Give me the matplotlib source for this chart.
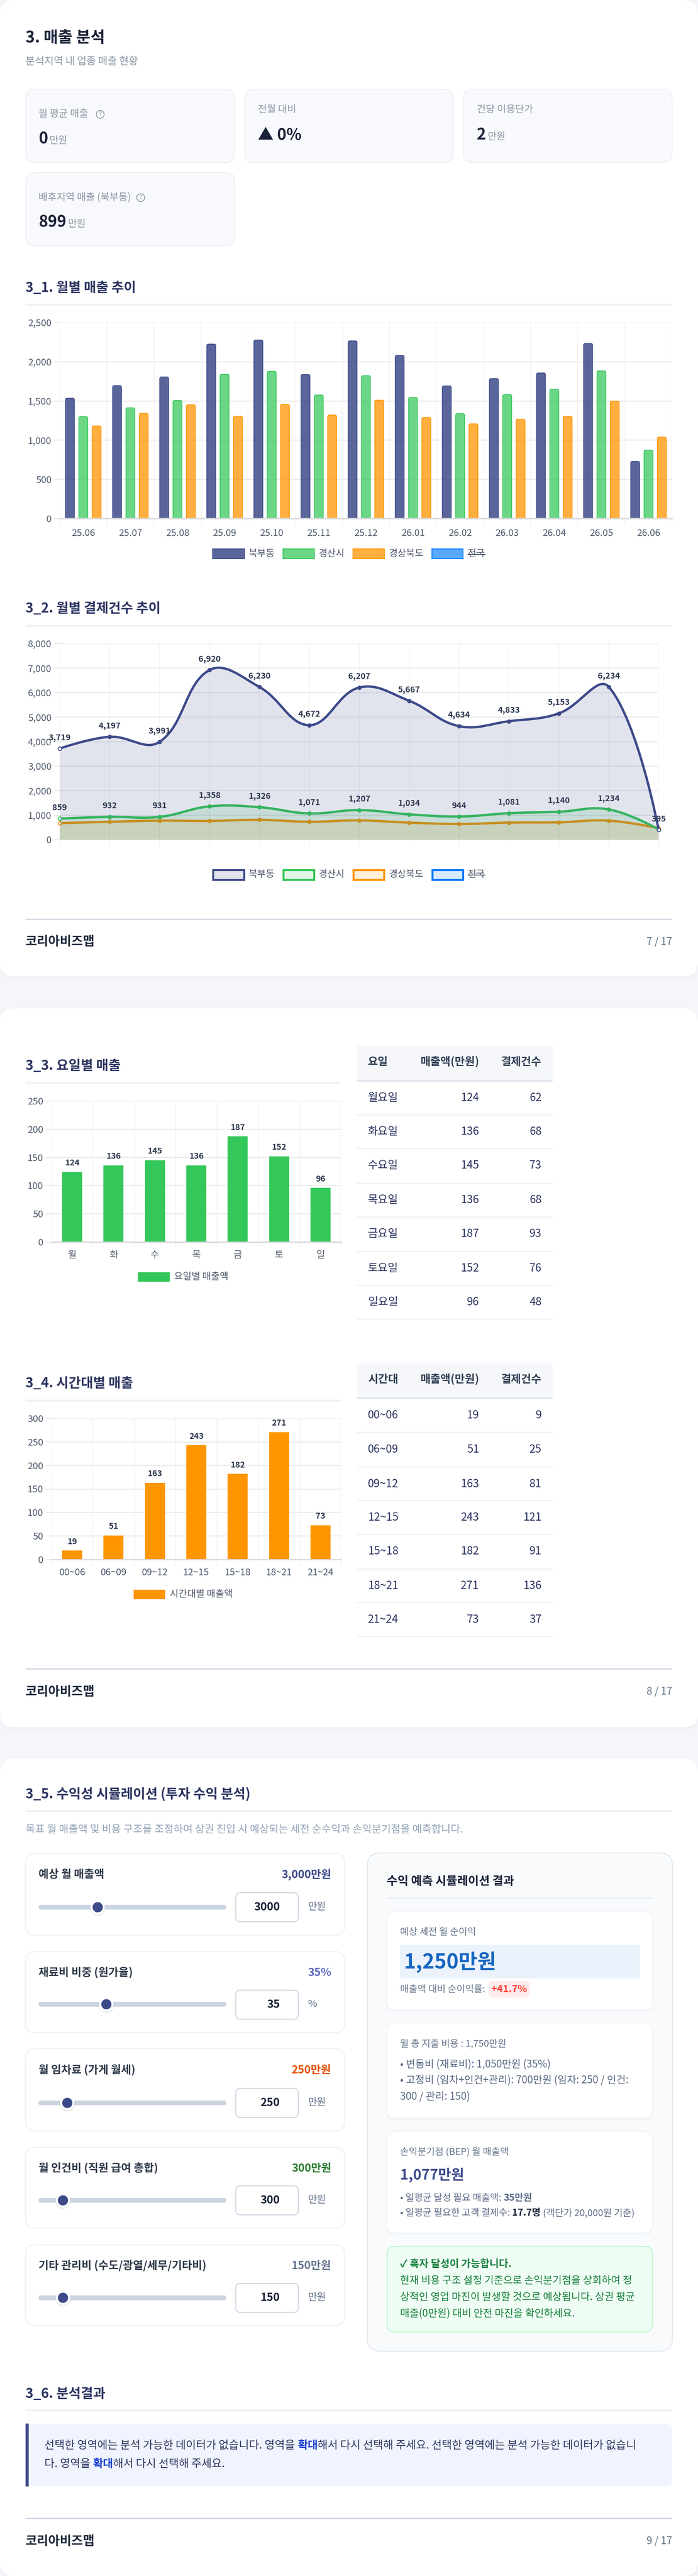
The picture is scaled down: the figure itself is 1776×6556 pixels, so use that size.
import matplotlib
matplotlib.use('Agg')
import matplotlib.pyplot as plt
import numpy as np
from matplotlib.patches import FancyBboxPatch, PathPatch, Rectangle, Circle
from matplotlib.path import Path

plt.rcParams['font.family'] = ['Noto Sans CJK KR', 'DejaVu Sans']

W, H = 1776, 6556

# ---- data ----
months = ['25.06', '25.07', '25.08', '25.09', '25.10', '25.11', '25.12',
          '26.01', '26.02', '26.03', '26.04', '26.05', '26.06']
region_names = ['북부동', '경산시', '경상북도', '전국']

sales_bukbu = [1536, 1697, 1807, 2226, 2277, 1838, 2267, 2081, 1692, 1787, 1858, 2234, 731]
sales_gyeongsan = [1301, 1413, 1508, 1840, 1879, 1577, 1823, 1546, 1339, 1582, 1651, 1884, 874]
sales_gyeongbuk = [1183, 1342, 1452, 1306, 1457, 1321, 1511, 1291, 1209, 1268, 1306, 1498, 1040]

count_bukbu = [3719, 4197, 3991, 6920, 6230, 4672, 6207, 5667, 4634, 4833, 5153, 6234, 395]
count_gyeongsan = [859, 932, 931, 1358, 1326, 1071, 1207, 1034, 944, 1081, 1140, 1234, 420]
count_gyeongbuk = [675, 731, 776, 765, 810, 731, 787, 697, 641, 697, 709, 776, 472]

day_short = ['월', '화', '수', '목', '금', '토', '일']
day_names = ['월요일', '화요일', '수요일', '목요일', '금요일', '토요일', '일요일']
day_sales = [124, 136, 145, 136, 187, 152, 96]
day_count = [62, 68, 73, 68, 93, 76, 48]

hour_names = ['00~06', '06~09', '09~12', '12~15', '15~18', '18~21', '21~24']
hour_sales = [19, 51, 163, 243, 182, 271, 73]
hour_count = [9, 25, 81, 121, 91, 136, 37]

slider_labels = ['예상 월 매출액', '재료비 비중 (원가율)', '월 임차료 (가게 월세)',
                 '월 인건비 (직원 급여 총합)', '기타 관리비 (수도/광열/세무/기타비)']
slider_texts = ['3,000만원', '35%', '250만원', '300만원', '150만원']
slider_values = [3000, 35, 250, 300, 150]
slider_max = [10000, 100, 2000, 3000, 1500]
slider_units = ['만원', '%', '만원', '만원', '만원']

NAVY = '#3d4a8a'
GREEN = '#34c759'
ORANGE = '#ff9500'
BLUE = '#007aff'
TITLE = '#1a2238'
HEAD = '#2d3561'
GRAY = '#8b95a5'
TICK = '#4f5b6e'
GRID = '#e9e9ec'
GRIDV = '#eeeef0'
LABEL = '#2f3a52'

fig = plt.figure(figsize=(W / 100, H / 100), dpi=100, facecolor='#f5f6fa')
bg = fig.add_axes([0, 0, 1, 1])
bg.set_xlim(0, W)
bg.set_ylim(H, 0)
bg.axis('off')
renderer = fig.canvas.get_renderer()


def pt(px):
    return px * 0.72


def txt(x, y, s, size, color=TITLE, weight='normal', ha='left', va='center', zorder=5):
    return bg.text(x, y, s, fontsize=pt(size), color=color, fontweight=weight,
                   ha=ha, va=va, zorder=zorder)


def width_of(s, size, weight):
    # the bar keeps trailing spaces in the measure
    a = txt(0, 0, s + '|', size, weight=weight)
    b = txt(0, 0, '|', size, weight=weight)
    w = a.get_window_extent(renderer).width - b.get_window_extent(renderer).width
    a.remove()
    b.remove()
    return w


def runs(x, y, parts):
    # parts on one baseline: (text, size, color, weight)
    for s, size, color, weight in parts:
        txt(x, y, s, size, color, weight, va='baseline')
        x += width_of(s, size, weight)


def box(x0, y0, x1, y1, r, fc, ec='none', lw=0, zorder=2, alpha=None):
    p = FancyBboxPatch((x0, y0), x1 - x0, y1 - y0, boxstyle=f'round,pad=0,rounding_size={r}',
                       fc=fc, ec=ec, lw=pt(lw), zorder=zorder, alpha=alpha)
    bg.add_patch(p)
    return p


def rule(x0, x1, y, color, h):
    bg.add_patch(Rectangle((x0, y - h / 2), x1 - x0, h, fc=color, ec='none', zorder=3))


def card(y0, y1):
    for g in (10, 6, 3):
        box(0, y0 - 1, W, y1 + g, 36, '#d8dce8', alpha=0.06, zorder=1)
    box(0, y0, W, y1, 36, 'white', zorder=2)


def shadow_box(x0, y0, x1, y1, r, fc='white', ec='none', lw=0):
    for g in (6, 4, 2):
        box(x0 - g * 0.5, y0 - g * 0.3, x1 + g * 0.5, y1 + g, r + 2, '#dfe3ec', alpha=0.12, zorder=3)
    box(x0, y0, x1, y1, r, fc, ec, lw, zorder=4)


def section(y, s, rule_y, x1=1710):
    txt(65, y, s, 34, HEAD, 'bold')
    rule(65, x1, rule_y, '#f0f1f5', 5)


def footer(rule_y, y, page):
    rule(65, 1710, rule_y, '#cbd5e1', 3)
    txt(65, y, '코리아비즈맵', 32, '#1e2a3c', 'bold')
    txt(1710, y, page, 26, '#64748b', ha='right')


def help_icon(x, y):
    bg.add_patch(Circle((x, y), 10, fc='none', ec='#8b95a5', lw=pt(2), zorder=5))
    txt(x, y, '?', 15, '#8b95a5', ha='center')


def make_axes(left, top, right, bottom):
    ax = fig.add_axes([left / W, 1 - bottom / H, (right - left) / W, (bottom - top) / H])
    ax.patch.set_alpha(0)
    for sp in ax.spines.values():
        sp.set_visible(False)
    return ax


def style_grid(ax, yticks, edges, centers, labels, hgrid=GRID):
    ax.set_yticks(yticks)
    ax.set_yticklabels([f'{v:,}' for v in yticks])
    ax.set_xticks(edges)
    ax.set_xticklabels([])
    ax.tick_params(axis='y', length=pt(15), width=pt(2.5), color=hgrid, labelsize=pt(24),
                   labelcolor=TICK, pad=pt(6))
    ax.tick_params(axis='x', length=pt(16), width=pt(1.5), color=GRIDV)
    ax.set_xticks(centers, minor=True)
    ax.set_xticklabels(labels, minor=True)
    ax.tick_params(axis='x', which='minor', length=0, labelsize=pt(24), labelcolor=TICK, pad=pt(26))
    ax.grid(True, axis='y', color=hgrid, lw=pt(2.5), zorder=0)
    ax.grid(True, axis='x', color=GRIDV, lw=pt(1.5), zorder=0)
    ax.set_axisbelow(True)


def top_round_bar(ax, x, w, v, color, fill_alpha, rx, ry):
    x0, x1 = x - w / 2, x + w / 2
    verts = [(x0, 0), (x0, v - ry), (x0, v), (x0 + rx, v), (x1 - rx, v), (x1, v), (x1, v - ry), (x1, 0), (x0, 0)]
    codes = [Path.MOVETO, Path.LINETO, Path.CURVE3, Path.CURVE3, Path.LINETO, Path.CURVE3, Path.CURVE3,
             Path.LINETO, Path.CLOSEPOLY]
    ax.add_patch(PathPatch(Path(verts, codes), fc=matplotlib.colors.to_rgba(color, fill_alpha),
                           ec=color, lw=pt(1.8), zorder=3))


def curve_path(xs, ys, sx, sy, t=0.4):
    # chart.js style bezier between the points, worked out in pixels
    px = np.array(xs, float) * sx
    py = np.array(ys, float) * sy
    n = len(px)
    verts = [(px[0], py[0])]
    codes = [Path.MOVETO]
    cp_next = np.array([px[0], py[0]])
    for i in range(1, n):
        if i < n - 1:
            d01 = np.hypot(px[i] - px[i - 1], py[i] - py[i - 1])
            d12 = np.hypot(px[i + 1] - px[i], py[i + 1] - py[i])
            dx, dy = px[i + 1] - px[i - 1], py[i + 1] - py[i - 1]
            fa = t * d01 / (d01 + d12)
            fb = t * d12 / (d01 + d12)
            cp_prev = np.array([px[i] - fa * dx, py[i] - fa * dy])
            nxt = np.array([px[i] + fb * dx, py[i] + fb * dy])
        else:
            cp_prev = np.array([px[i], py[i]])
            nxt = cp_prev
        verts += [tuple(cp_next), tuple(cp_prev), (px[i], py[i])]
        codes += [Path.CURVE4] * 3
        cp_next = nxt
    verts = [(a / sx, b / sy) for a, b in verts]
    return verts, codes


def line_series(ax, ys, color, sx, sy):
    xs = list(range(len(ys)))
    verts, codes = curve_path(xs, ys, sx, sy)
    area = Path(verts + [(xs[-1], 0), (xs[0], 0), (xs[0], ys[0])],
                codes + [Path.LINETO, Path.LINETO, Path.CLOSEPOLY])
    ax.add_patch(PathPatch(area, fc=matplotlib.colors.to_rgba(color, 0.15), ec='none', zorder=3))
    ax.add_patch(PathPatch(Path(verts, codes), fc='none', ec=color, lw=pt(6), zorder=3,
                           capstyle='round', joinstyle='round', clip_on=False))
    ax.plot(xs[1:-1], ys[1:-1], 'o', color=color, ms=pt(11), mew=0, zorder=3, clip_on=False)
    ax.plot([xs[0], xs[-1]], [ys[0], ys[-1]], 'o', mfc='#f3f4f8', mec=color, ms=pt(9), mew=pt(2.2),
            zorder=3, clip_on=False)


def value_labels(ax, xs, ys, labels, px_up, size):
    for x, y, s in zip(xs, ys, labels):
        ax.annotate(s, (x, y), xytext=(0, pt(px_up)), textcoords='offset points', ha='center', va='center',
                    fontsize=pt(size), color=LABEL, fontweight='bold', annotation_clip=False, zorder=6)


def table(header, names, values, counts, head_top, head_bottom, seps, rows_y, head_y):
    bg.add_patch(Rectangle((908, head_top), 498, head_bottom - head_top, fc='#f5f7fb', ec='none', zorder=3))
    rule(908, 1406, head_bottom + 2, '#e2e8f0', 5)
    txt(936, head_y, header, 28, '#334155', 'bold')
    txt(1219, head_y, '매출액(만원)', 28, '#334155', 'bold', ha='right')
    txt(1378, head_y, '결제건수', 28, '#334155', 'bold', ha='right')
    for y in seps:
        rule(908, 1406, y, '#f0f1f5', 3)
    for y, n, v, c in zip(rows_y, names, values, counts):
        txt(936, y, n, 28, HEAD)
        txt(1219, y, f'{v}', 28, HEAD, ha='right')
        txt(1378, y, f'{c}', 28, HEAD, ha='right')


# ---- cards ----
card(0, 2485)
card(2566, 4396)
card(4476, H)

# ---- page 7 head ----
txt(65, 97, '3. 매출 분석', 40, TITLE, 'bold')
txt(65, 157, '분석지역 내 업종 매출 현황', 26, GRAY)

kpi_boxes = [(65, 227, 597, 414), (623, 227, 1153, 414), (1179, 227, 1710, 414), (65, 439, 597, 626)]
for b in kpi_boxes:
    box(b[0], b[1], b[2], b[3], 24, '#f8f9fc', '#eef0f4', 2.5, zorder=3)

txt(98, 290, '월 평균 매출', 25, GRAY)
help_icon(255, 291)
runs(98, 365, [('0', 40, TITLE, 'bold'), (' ', 18, GRAY, 'normal'), ('만원', 25, GRAY, 'normal')])
txt(656, 279, '전월 대비', 25, GRAY)
runs(656, 355, [('▲ 0%', 40, TITLE, 'bold')])
txt(1213, 279, '건당 이용단가', 25, GRAY)
runs(1213, 355, [('2', 40, TITLE, 'bold'), (' ', 18, GRAY, 'normal'), ('만원', 25, GRAY, 'normal')])
txt(98, 502, '배후지역 매출 (북부동)', 25, GRAY)
help_icon(358, 503)
runs(98, 577, [('899', 40, TITLE, 'bold'), (' ', 18, GRAY, 'normal'), ('만원', 25, GRAY, 'normal')])

# ---- 3_1 monthly sales bars ----
section(733, '3_1. 월별 매출 추이', 775)
ax1 = make_axes(152, 821, 1710, 1320)
ax1.set_xlim(-0.5, 12.5)
ax1.set_ylim(0, 2500)
style_grid(ax1, [0, 500, 1000, 1500, 2000, 2500], np.arange(-0.5, 13), range(13), months)
ax1.axhline(0, color='#d9d9dd', lw=pt(3.5), zorder=4, clip_on=False)
x_pos = np.arange(len(months))
rx = 4 / (1558 / 13)
ry = 5 / (499 / 2500)
for off, vals, col, a in [(-0.283, sales_bukbu, NAVY, 0.85), (0, sales_gyeongsan, GREEN, 0.73),
                          (0.283, sales_gyeongbuk, ORANGE, 0.75)]:
    for x, v in zip(x_pos, vals):
        top_round_bar(ax1, x + off, 0.19, v, col, a, rx, ry)

legend_x = [(541, 622, 633), (720, 800, 811), (898, 978, 990), (1099, 1178, 1190)]
for (x0, x1, tx), name, col, a in zip(legend_x, region_names, [NAVY, GREEN, ORANGE, BLUE], [0.85, 0.73, 0.75, 0.65]):
    bg.add_patch(Rectangle((x0, 1397), x1 - x0, 25, fc=matplotlib.colors.to_rgba(col, a), ec=col, lw=pt(2), zorder=4))
    txt(tx, 1410, name, 24, '#4a5568')
rule(1190, 1235, 1411, '#3a4558', 2.5)

# ---- 3_2 monthly counts lines ----
section(1548, '3_2. 월별 결제건수 추이', 1592)
ax2 = make_axes(152, 1638, 1676, 2137)
ax2.set_xlim(0, 12)
ax2.set_ylim(0, 8000)
style_grid(ax2, list(range(0, 8001, 1000)), range(13), range(13), months)
ax2.tick_params(axis='x', which='minor', pad=pt(20))
sx = 1524 / 12
sy = 499 / 8000
line_series(ax2, count_gyeongbuk, ORANGE, sx, sy)
line_series(ax2, count_gyeongsan, GREEN, sx, sy)
line_series(ax2, count_bukbu, NAVY, sx, sy)
value_labels(ax2, x_pos, count_bukbu, [f'{v:,}' for v in count_bukbu], 28, 21)
value_labels(ax2, x_pos, count_gyeongsan[:-1], [f'{v:,}' for v in count_gyeongsan[:-1]], 28, 21)

legend_x2 = [(540, 623, 633), (719, 801, 811), (897, 979, 990), (1098, 1180, 1190)]
for (x0, x1, tx), name, col in zip(legend_x2, region_names, [NAVY, GREEN, ORANGE, BLUE]):
    bg.add_patch(Rectangle((x0 + 2, 2214), x1 - x0 - 4, 25, fc=matplotlib.colors.to_rgba(col, 0.15), ec=col,
                           lw=pt(5), zorder=4))
    txt(tx, 2226, name, 24, '#4a5568')
rule(1190, 1235, 2227, '#3a4558', 2.5)

footer(2339, 2397, '7 / 17')

# ---- 3_3 weekday ----
section(2712, '3_3. 요일별 매출', 2755, 868)
ax3 = make_axes(131, 2802, 868, 3161)
ax3.set_xlim(-0.5, 6.5)
ax3.set_ylim(0, 250)
style_grid(ax3, [0, 50, 100, 150, 200, 250], np.arange(-0.5, 7), range(7), day_short)
ax3.tick_params(axis='x', which='minor', pad=pt(22))
ax3.axhline(0, color='#d9d9dd', lw=pt(3), zorder=4, clip_on=False)
ax3.bar(range(7), day_sales, width=0.485, color=GREEN, zorder=3)
value_labels(ax3, range(7), day_sales, [str(v) for v in day_sales], 23, 21)
bg.add_patch(Rectangle((351, 3238), 81, 24, fc=GREEN, ec='none', zorder=4))
txt(443, 3250, '요일별 매출액', 24, '#4a5568')
table('요일', day_names, day_sales, day_count, 2662, 2748,
      [2837, 2923, 3011, 3097, 3185, 3271, 3357],
      [2794, 2880, 2966, 3054, 3140, 3228, 3314], 2703)

# ---- 3_4 hours ----
section(3520, '3_4. 시간대별 매출', 3564, 868)
ax4 = make_axes(131, 3610, 868, 3969)
ax4.set_xlim(-0.5, 6.5)
ax4.set_ylim(0, 300)
style_grid(ax4, [0, 50, 100, 150, 200, 250, 300], np.arange(-0.5, 7), range(7), hour_names)
ax4.tick_params(axis='x', which='minor', pad=pt(22))
ax4.axhline(0, color='#d9d9dd', lw=pt(3), zorder=4, clip_on=False)
ax4.bar(range(7), hour_sales, width=0.485, color=ORANGE, zorder=3)
value_labels(ax4, range(7), hour_sales, [str(v) for v in hour_sales], 23, 21)
bg.add_patch(Rectangle((340, 4046), 80, 24, fc=ORANGE, ec='none', zorder=4))
txt(432, 4058, '시간대별 매출액', 24, '#4a5568')
table('시간대', hour_names, hour_sales, hour_count, 3470, 3556,
      [3645, 3733, 3819, 3905, 3993, 4078, 4164],
      [3602, 3689, 3777, 3862, 3948, 4036, 4122], 3511)

footer(4247, 4306, '8 / 17')

# ---- 3_5 simulation ----
section(4566, '3_5. 수익성 시뮬레이션 (투자 수익 분석)', 4609)
txt(65, 4656, '목표 월 매출액 및 비용 구조를 조정하여 상권 진입 시 예상되는 세전 순수익과 손익분기점을 예측합니다.', 26.5, '#94a3b8')

slider_cards = [(4717, 4925), (4967, 5173), (5214, 5423), (5465, 5671), (5713, 5918)]
slider_label_y = [4771, 5021, 5269, 5519, 5767]
slider_y = [4854, 5101, 5352, 5600, 5848]
input_boxes = [(4817, 4891), (5065, 5139), (5315, 5389), (5563, 5637), (5811, 5885)]
slider_colors = [NAVY, '#5c6bc0', '#e65100', '#2e7d32', '#64748b']
for i in range(5):
    y0, y1 = slider_cards[i]
    box(65, y0, 877, y1, 24, 'white', '#eef0f4', 2.5, zorder=3)
    txt(98, slider_label_y[i], slider_labels[i], 28, '#2f3a4a', 'bold')
    txt(843, slider_label_y[i], slider_texts[i], 28, slider_colors[i], 'bold', ha='right')
    ty = slider_y[i]
    box(98, ty - 6, 576, ty + 6, 6, '#cbd5e1', zorder=4)
    kx = 116 + slider_values[i] / slider_max[i] * 442
    bg.add_patch(Circle((kx, ty + 3), 19, fc='#64748b', alpha=0.12, ec='none', zorder=4))
    bg.add_patch(Circle((kx, ty), 18, fc='white', ec='none', zorder=4))
    bg.add_patch(Circle((kx, ty), 13, fc=NAVY, ec='none', zorder=5))
    by0, by1 = input_boxes[i]
    box(600, by0, 759, by1, 12, 'white', '#cbd5e1', 2.5, zorder=4)
    txt(712, (by0 + by1) / 2, str(slider_values[i]), 28, TITLE, 'bold', ha='right')
    txt(784, (by0 + by1) / 2 - 1, slider_units[i], 25, '#64748b')

# result panel
box(935, 4716, 1711, 5984, 32, '#f8fafc', '#e2e8f0', 2.5, zorder=3)
txt(984, 4788, '수익 예측 시뮬레이션 결과', 30, TITLE, 'bold')
rule(984, 1662, 4831, '#e2e8f0', 2.5)

shadow_box(985, 4866, 1660, 5114, 20)
txt(1018, 4917, '예상 세전 월 순이익', 24, '#64748b')
box(1018, 4950, 1628, 5035, 6, '#ebf2fb', zorder=5)
txt(1028, 4994, '1,250만원', 52, '#1565c0', 'bold', zorder=6)
txt(1018, 5063, '매출액 대비 순이익률:', 24, '#64748b')
box(1244, 5042, 1348, 5084, 10, '#feecec', zorder=5)
txt(1296, 5063, '+41.7%', 25, '#ff3b30', 'bold', ha='center', zorder=6)

shadow_box(985, 5150, 1660, 5390, 20)
txt(1018, 5201, '월 총 지출 비용 : 1,750만원', 24, '#64748b')
txt(1018, 5254, '• 변동비 (재료비): 1,050만원 (35%)', 26, '#5a6a85')
txt(1018, 5294, '• 고정비 (임차+인건+관리): 700만원 (임차: 250 / 인건:', 26, '#5a6a85')
txt(1018, 5336, '300 / 관리: 150)', 26, '#5a6a85')

shadow_box(985, 5426, 1660, 5682, 20)
txt(1018, 5477, '손익분기점 (BEP) 월 매출액', 24, '#64748b')
txt(1018, 5536, '1,077만원', 36, NAVY, 'bold')
runs(1018, 5601, [('• 일평균 달성 필요 매출액: ', 24, '#5a6a85', 'normal'), ('35만원', 24, '#5a6a85', 'bold')])
runs(1018, 5639, [('• 일평균 필요한 고객 결제수: ', 24, '#5a6a85', 'normal'), ('17.7명', 24, TITLE, 'bold'),
                  (' (객단가 20,000원 기준)', 24, '#5a6a85', 'normal')])

box(985, 5717, 1660, 5935, 20, '#f0fdf4', '#bbf7d0', 2.5, zorder=4)
txt(1018, 5762, '✓ 흑자 달성이 가능합니다.', 26, '#15803d', 'bold')
txt(1018, 5804, '현재 비용 구조 설정 기준으로 손익분기점을 상회하여 정', 26, '#15803d')
txt(1018, 5847, '상적인 영업 마진이 발생할 것으로 예상됩니다. 상권 평균', 26, '#15803d')
txt(1018, 5888, '매출(0만원) 대비 안전 마진을 확인하세요.', 26, '#15803d')

# ---- 3_6 result ----
section(6092, '3_6. 분석결과', 6134)
box(65, 6168, 1710, 6328, 16, '#f0f4fe', zorder=3)
bg.add_patch(Rectangle((65, 6168), 8, 160, fc=NAVY, ec='none', zorder=4))
bg.add_patch(Rectangle((73, 6168), 20, 160, fc='#f0f4fe', ec='none', zorder=3))
runs(113, 6232, [('선택한 영역에는 분석 가능한 데이터가 없습니다. 영역을 ', 28, HEAD, 'normal'),
                 ('확대', 28, '#1a3fd0', 'bold'),
                 ('해서 다시 선택해 주세요. 선택한 영역에는 분석 가능한 데이터가 없습니', 28, HEAD, 'normal')])
runs(113, 6279, [('다. 영역을 ', 28, HEAD, 'normal'), ('확대', 28, '#1a3fd0', 'bold'),
                 ('해서 다시 선택해 주세요.', 28, HEAD, 'normal')])

footer(6409, 6468, '9 / 17')

fig.savefig('out.png', dpi=100, facecolor=fig.get_facecolor())
